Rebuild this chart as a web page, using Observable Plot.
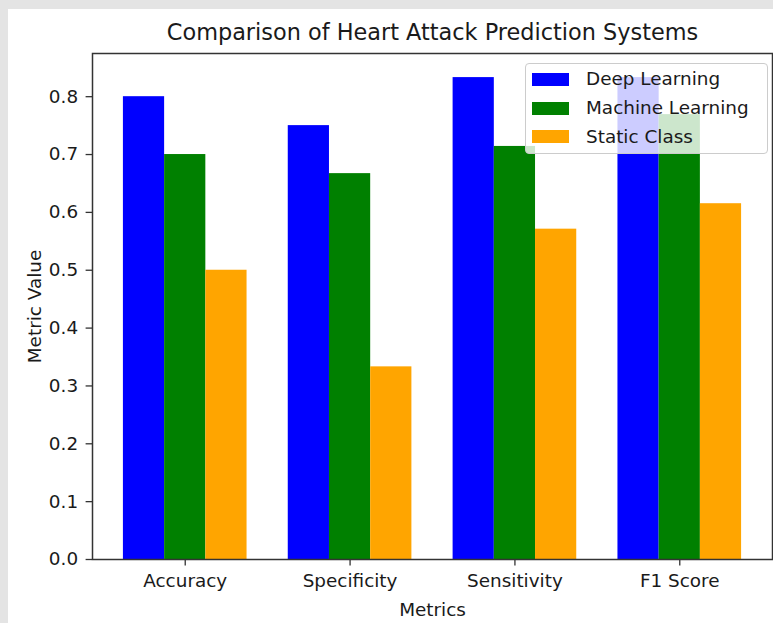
<!DOCTYPE html>
<html>
<head>
<meta charset="utf-8">
<script src="https://cdn.jsdelivr.net/npm/d3@7"></script>
<script src="https://cdn.jsdelivr.net/npm/@observablehq/plot@0.6"></script>
<style>
  html, body { margin: 0; padding: 0; background: #e4e4e4; width: 773px; height: 623px; overflow: hidden; }
  #chart { position: absolute; left: 8px; top: 9px; width: 765px; height: 614px; background: white; }
  #chart svg { display: block; }
  #legend {
    position: absolute; left: 517px; top: 54px; width: 235px;
    padding: 1px 0 2px 6px; box-sizing: content-box;
    background: rgba(255,255,255,0.8); border: 1px solid #cccccc; border-radius: 4px;
    font-family: "DejaVu Sans", sans-serif; font-size: 18.4px; color: #1a1a1a;
  }
  #legend .row { display: flex; align-items: center; height: 28.7px; line-height: 1; }
  #legend .sw { width: 37px; height: 13px; margin-right: 17px; flex: none; }
</style>
</head>
<body>
<div id="chart"></div>
<script>
const metrics = ["Accuracy", "Specificity", "Sensitivity", "F1 Score"];
const series = ["Deep Learning", "Machine Learning", "Static Class"];
const seriesColors = ["blue", "green", "orange"];
const deepLearning = [0.8, 0.75, 0.833, 0.833];
const machineLearning = [0.7, 0.667, 0.714, 0.769];
const staticClass = [0.5, 0.333, 0.571, 0.615];
const yTicks = [0, 0.1, 0.2, 0.3, 0.4, 0.5, 0.6, 0.7, 0.8];
const title = "Comparison of Heart Attack Prediction Systems";
const xLabel = "Metrics";
const yLabel = "Metric Value";

const valuesBySeries = [deepLearning, machineLearning, staticClass];
const barWidth = 0.25;

const table = [];
metrics.forEach((m, i) => {
  series.forEach((s, j) => {
    const center = i + (j - 1) * barWidth;
    table.push({metric: m, series: s, value: valuesBySeries[j][i],
                x1: center - barWidth / 2, x2: center + barWidth / 2});
  });
});

const xMin = d3.min(table, d => d.x1), xMax = d3.max(table, d => d.x2);
const xPad = (xMax - xMin) * 0.05;
const yMax = d3.max(table, d => d.value) * 1.05;
const ink = "#1a1a1a";

const chart = Plot.plot({
  width: 765,
  height: 614,
  marginLeft: 84,
  marginRight: 1,
  marginTop: 44,
  marginBottom: 64,
  style: {fontFamily: "DejaVu Sans, sans-serif", fontSize: "18.4px", background: "white", color: ink, overflow: "visible"},
  x: {domain: [xMin - xPad, xMax + xPad], axis: null},
  y: {domain: [0, yMax], axis: null},
  color: {domain: series, range: seriesColors},
  marks: [
    Plot.rect(table, {x1: "x1", x2: "x2", y1: 0, y2: "value", fill: "series"}),
    Plot.axisX({ticks: d3.range(metrics.length), tickFormat: i => metrics[i], tickSize: 6.4, tickPadding: 8,
                label: null, stroke: "#333", strokeWidth: 1.3, fill: ink, fontSize: 18.4}),
    Plot.axisY({ticks: yTicks, tickFormat: d3.format(".1f"), tickSize: 6.4, tickPadding: 8,
                label: null, stroke: "#333", strokeWidth: 1.3, fill: ink, fontSize: 18.4}),
    Plot.frame({stroke: "#333", strokeWidth: 1.5}),
    Plot.text([title], {text: d => d, frameAnchor: "top", dy: -13.5, lineAnchor: "bottom", fontSize: 22.4, fill: ink}),
    Plot.text([xLabel], {text: d => d, frameAnchor: "bottom", dy: 56, lineAnchor: "bottom", fontSize: 18.4, fill: ink}),
    Plot.text([yLabel], {text: d => d, frameAnchor: "left", dx: -52, rotate: -90, textAnchor: "middle", lineAnchor: "bottom", fontSize: 18.4, fill: ink})
  ]
});

const root = document.getElementById("chart");
root.appendChild(chart);

const legend = document.createElement("div");
legend.id = "legend";
series.forEach((s, j) => {
  const row = document.createElement("div");
  row.className = "row";
  const sw = document.createElement("span");
  sw.className = "sw";
  sw.style.background = seriesColors[j];
  const label = document.createElement("span");
  label.textContent = s;
  row.appendChild(sw);
  row.appendChild(label);
  legend.appendChild(row);
});
root.appendChild(legend);
</script>
</body>
</html>
